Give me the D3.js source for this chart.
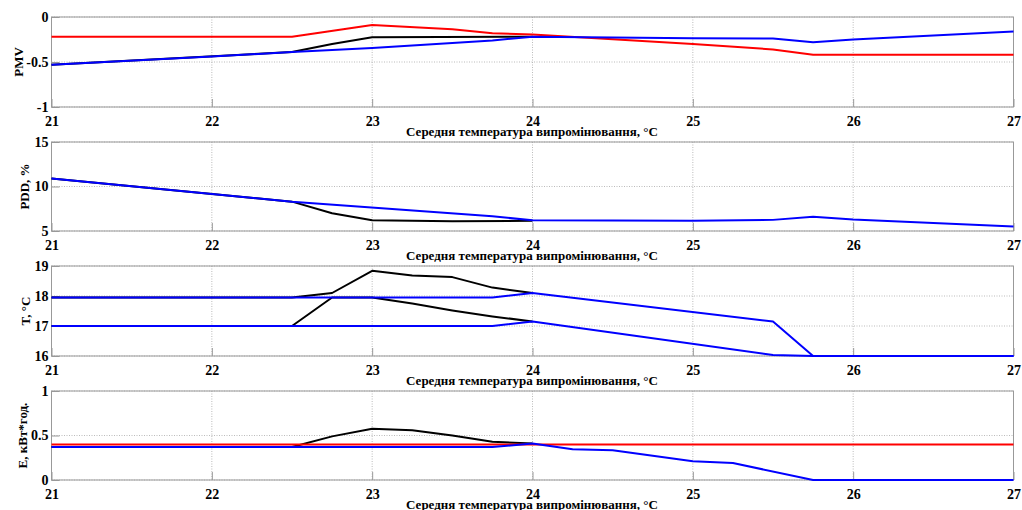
<!DOCTYPE html>
<html><head><meta charset="utf-8">
<script src="https://cdn.jsdelivr.net/npm/d3@7"></script>
<style>
body{margin:0;background:#fff;}
text{font-family:"Liberation Serif","Times New Roman",serif;font-weight:bold;fill:#000;}
</style></head>
<body><svg id="c" width="1022" height="510"></svg>
<script>
const xTicks = [21,22,23,24,25,26,27];
const xTitle = "Середня температура випромінювання, °C";

// Panel 1: PMV
const pmvTicks = [-1,-0.5,0];
const pmvRedX = [21,22.5,23,23.5,23.75,24,25,25.5,25.75,27];
const pmvRed  = [-0.22,-0.22,-0.09,-0.135,-0.18,-0.195,-0.30,-0.36,-0.42,-0.42];
const pmvBlackX = [21,22.5,22.75,23,24];
const pmvBlack  = [-0.53,-0.39,-0.30,-0.225,-0.22];
const pmvBlueX = [21,22,22.5,23,23.75,24,25,25.5,25.75,26,27];
const pmvBlue  = [-0.53,-0.44,-0.39,-0.345,-0.26,-0.22,-0.235,-0.24,-0.28,-0.25,-0.16];

// Panel 2: PDD
const pddTicks = [5,10,15];
const pddBlackX = [21,22.5,22.75,23,23.5,24];
const pddBlack  = [10.9,8.3,7.0,6.2,6.1,6.15];
const pddBlueX = [21,22.5,23.75,24,25,25.5,25.75,26,27];
const pddBlue  = [10.9,8.3,6.65,6.2,6.15,6.25,6.6,6.3,5.5];

// Panel 3: T
const tTicks = [16,17,18,19];
const tBlackUpX = [21,22.5,22.75,23,23.25,23.5,23.75,24];
const tBlackUp  = [17.95,17.95,18.1,18.84,18.68,18.63,18.28,18.1];
const tBlackLoX = [21,22.5,22.75,23,23.25,23.5,23.75,24];
const tBlackLo  = [17.0,17.0,17.95,17.95,17.75,17.52,17.32,17.15];
const tBlueUpX = [21,23.75,24,25.5,25.75,27];
const tBlueUp  = [17.95,17.95,18.1,17.15,16.0,16.0];
const tBlueLoX = [21,23.75,24,25.5,25.75,27];
const tBlueLo  = [17.0,17.0,17.15,16.03,16.0,16.0];

// Panel 4: E
const eTicks = [0,0.5,1];
const eBlackX = [21,22.5,22.75,23,23.25,23.5,23.75,24];
const eBlack  = [0.37,0.37,0.49,0.575,0.56,0.50,0.43,0.41];
const eRedX = [21,27];
const eRed  = [0.40,0.40];
const eBlueX = [21,23.75,24,24.25,24.5,25,25.25,25.75,27];
const eBlue  = [0.37,0.37,0.41,0.345,0.333,0.21,0.19,0,0];

const panels = [
  {top:17,bottom:107,dom:[-1,0],ticks:pmvTicks,label:"PMV",labelX:18,
   series:[[pmvBlackX,pmvBlack,"#000"],[pmvRedX,pmvRed,"#ff0000"],[pmvBlueX,pmvBlue,"#0000ff"]]},
  {top:142,bottom:231,dom:[5,15],ticks:pddTicks,label:"PDD, %",labelX:24,
   series:[[pddBlackX,pddBlack,"#000"],[pddBlueX,pddBlue,"#0000ff"]]},
  {top:266,bottom:356,dom:[16,19],ticks:tTicks,label:"T, °C",labelX:25,
   series:[[tBlackUpX,tBlackUp,"#000"],[tBlackLoX,tBlackLo,"#000"],[tBlueUpX,tBlueUp,"#0000ff"],[tBlueLoX,tBlueLo,"#0000ff"]]},
  {top:391,bottom:480,dom:[0,1],ticks:eTicks,label:"E, кВт*год.",labelX:22,
   series:[[eBlackX,eBlack,"#000"],[eRedX,eRed,"#ff0000"],[eBlueX,eBlue,"#0000ff"]]}
];

const svg = d3.select("#c");
const left = 51.5, right = 1013.5;
const x = d3.scaleLinear().domain([21,27]).range([left,right]);

panels.forEach(p => {
  const y = d3.scaleLinear().domain(p.dom).range([p.bottom,p.top]);
  const g = svg.append("g");
  // grid
  g.selectAll(".gx").data(xTicks).enter().append("line")
    .attr("x1",d=>x(d)).attr("x2",d=>x(d)).attr("y1",p.top).attr("y2",p.bottom)
    .attr("stroke","#aaa").attr("stroke-width",0.8).attr("stroke-dasharray","1,1.5");
  g.selectAll(".gy").data(p.ticks).enter().append("line")
    .attr("x1",left).attr("x2",right).attr("y1",d=>y(d)).attr("y2",d=>y(d))
    .attr("stroke","#aaa").attr("stroke-width",0.8).attr("stroke-dasharray","1,1.5");
  // box
  g.append("rect").attr("x",left).attr("y",p.top).attr("width",right-left).attr("height",p.bottom-p.top)
    .attr("fill","none").attr("stroke","#999").attr("stroke-width",1);
  // axes with inward ticks
  const ax = g.append("g").attr("transform",`translate(0,${p.bottom})`)
    .call(d3.axisBottom(x).tickValues(xTicks).tickSize(-8).tickFormat(d3.format("d")));
  ax.select(".domain").remove();
  ax.selectAll("line").attr("stroke","#999");
  ax.selectAll("text").style("font-size","14px").attr("dy",null).attr("y",19);
  const ay = g.append("g").attr("transform",`translate(${left},0)`)
    .call(d3.axisLeft(y).tickValues(p.ticks).tickSize(-8).tickFormat(d=>String(d)));
  ay.select(".domain").remove();
  ay.selectAll("line").attr("stroke","#999");
  ay.selectAll("text").style("font-size","14px").attr("x",-3);
  // lines
  const line = d3.line().x(d=>x(d[0])).y(d=>y(d[1]));
  p.series.forEach(s => {
    const pts = s[0].map((xv,i)=>[xv,s[1][i]]);
    g.append("path").attr("d",line(pts)).attr("fill","none").attr("stroke",s[2]).attr("stroke-width",2)
      .attr("stroke-linejoin","round");
  });
  // titles
  g.append("text").attr("x",532).attr("y",p.bottom+28.5).attr("text-anchor","middle")
    .style("font-size","13px").text(xTitle);
  g.append("text").attr("transform",`translate(${p.labelX},${(p.top+p.bottom)/2}) rotate(-90)`)
    .attr("text-anchor","middle").attr("dy","0.35em").style("font-size","13px").text(p.label);
});
</script></body></html>
